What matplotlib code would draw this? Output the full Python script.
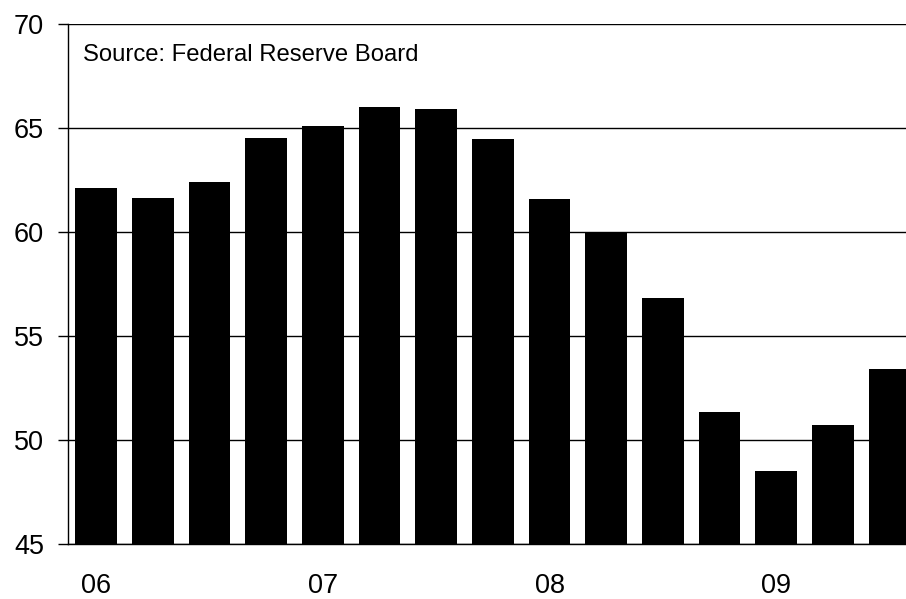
import matplotlib.pyplot as plt

# quarterly values, 2006 Q1 .. 2009 Q3
values = [62.1, 61.65, 62.4, 64.5, 65.08, 66.0, 65.92, 64.47,
          61.58, 60.0, 56.82, 51.37, 48.5, 50.74, 53.42]
year_labels = ['06', '07', '08', '09']
year_pos = [0, 4, 8, 12]
yticks = [45, 50, 55, 60, 65, 70]

plt.rcParams['font.family'] = ['Liberation Sans', 'DejaVu Sans']

fig = plt.figure(figsize=(9.06, 5.99), dpi=100)
W, H = 906, 599
left, right, top, bottom = 67.7, 918, 24, 544.3
ax = fig.add_axes([left / W, (H - bottom) / H, (right - left) / W, (bottom - top) / H])

ax.bar(range(len(values)), values, width=0.735, color='black', zorder=3)

ax.set_xlim(-0.5, len(values) - 0.5)
ax.set_ylim(45, 70)
ax.set_yticks(yticks)
ax.set_xticks(year_pos)
ax.set_xticklabels(year_labels)
ax.grid(axis='y', color='black', linewidth=1, zorder=1)

for s in ['top', 'right']:
    ax.spines[s].set_visible(False)
ax.spines['left'].set_linewidth(1)
ax.spines['bottom'].set_linewidth(1)

ax.tick_params(axis='y', length=7, width=1, pad=10, labelsize=19.5)
ax.tick_params(axis='x', length=0, pad=20.5, labelsize=19.5)

ax.text(83 / W, 1 - 54.7 / H, 'Source: Federal Reserve Board',
        transform=fig.transFigure, fontsize=17.2, va='center', ha='left')

fig.savefig('out.png', dpi=100)
